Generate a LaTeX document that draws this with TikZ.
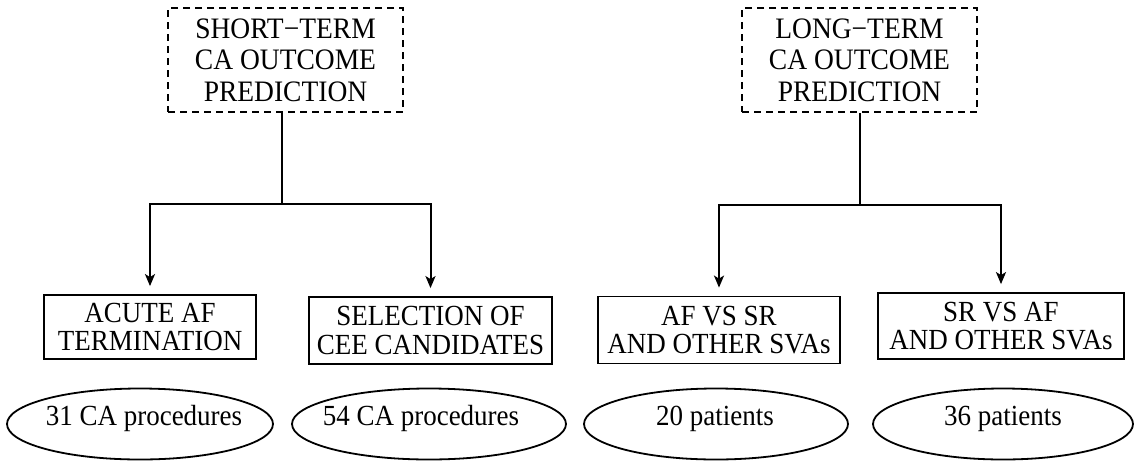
\documentclass[tikz,border=0pt]{standalone}
\usepackage{graphicx}
\usepackage{fontspec}
\setmainfont{Liberation Serif}
\usetikzlibrary{shapes.geometric,arrows.meta}
\newcommand{\stk}[3]{\scalebox{1}[1.08]{\fontsize{#1}{#2}\selectfont\vbox{\halign{\hfil##\hfil\cr#3\crcr}}}}
\newcommand{\etx}[1]{\scalebox{1}[1.08]{\fontsize{27}{30}\selectfont #1}}
\begin{document}
\begin{tikzpicture}[x=1pt,y=-1pt,
  topbox/.style={draw, line width=2pt, dash pattern=on 7pt off 5pt, inner sep=0pt, minimum width=235pt, minimum height=104pt},
  lowbox/.style={draw, line width=1.8pt, inner sep=0pt},
  ell/.style={draw, ellipse, line width=1.8pt, inner sep=0pt, minimum height=71pt},
  etext/.style={anchor=base, inner sep=0pt},
  conn/.style={line width=2pt},
  arr/.style={line width=2pt, -{Stealth[length=12pt,width=10pt,inset=3pt]}, shorten >=8pt}]
\useasboundingbox (0,0) rectangle (1135,461);

% top boxes
\node[topbox] (stp) at (285.5,60) {\stk{27.5}{29.2}{SHORT−TERM\cr CA OUTCOME\cr PREDICTION}};
\node[topbox] (ltp) at (859.5,60) {\stk{27.5}{29.2}{LONG−TERM\cr CA OUTCOME\cr PREDICTION}};

% lower boxes
\node[lowbox, minimum width=212pt, minimum height=64pt] (acute) at (150,327) {\stk{27}{26}{ACUTE AF\cr TERMINATION}};
\node[lowbox, minimum width=243pt, minimum height=67pt] (sel) at (430.5,330.5) {\stk{27}{26}{SELECTION OF\cr CEE CANDIDATES}};
\node[lowbox, minimum width=242pt, minimum height=67pt] (afsr) at (719,330) {\stk{27}{26}{AF VS SR\cr AND OTHER SVAs}};
\node[lowbox, minimum width=246pt, minimum height=66pt] (sraf) at (1001,326) {\stk{27}{26}{SR VS AF\cr AND OTHER SVAs}};

% junctions
\coordinate (sj) at (282,204);
\coordinate (lj) at (859.5,205);

\draw[conn] (stp.south -| sj) -- (sj);
\draw[arr] (sj) -| (acute);
\draw[arr] (sj) -| (sel);
\draw[conn] (ltp.south) -- (lj);
\draw[arr] (lj) -| (afsr);
\draw[arr] (lj) -| (sraf);

% ellipses
\node[ell, minimum width=266pt] (e1) at (140,424) {};
\node[ell, minimum width=274pt] (e2) at (429,424) {};
\node[ell, minimum width=264pt] (e3) at (716,424) {};
\node[ell, minimum width=260pt] (e4) at (1003,424) {};

\node[etext] (t1) at (144,425) {\etx{31 CA procedures}};
\node[etext] (t2) at (421,425) {\etx{54 CA procedures}};
\node[etext] (t3) at (715,425) {\etx{20 patients}};
\node[etext] (t4) at (1003,425) {\etx{36 patients}};
\end{tikzpicture}
\end{document}
